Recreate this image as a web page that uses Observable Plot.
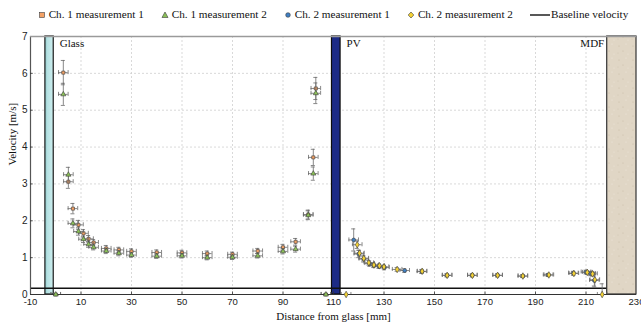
<!DOCTYPE html>
<html>
<head>
<meta charset="utf-8">
<script src="https://cdn.jsdelivr.net/npm/d3@7"></script>
<script src="https://cdn.jsdelivr.net/npm/@observablehq/plot@0.6"></script>
<style>
  html, body { margin: 0; padding: 0; background: white; }
  #wrap { width: 641px; height: 327px; position: relative; overflow: hidden; }
  #legend { position: relative; width: 641px; height: 28px; }
  #legendRow { position: absolute; left: 30px; width: 606px; top: 8px; display: flex; justify-content: center; gap: 17px;
               font-family: "Liberation Serif", serif; font-size: 11.2px; color: #111; line-height: 13px; white-space: nowrap; }
  .item { display: flex; align-items: center; }
  .item svg { display: block; margin-right: 3px; }
</style>
</head>
<body>
<div id="wrap">
  <div id="legend"><div id="legendRow"></div></div>
  <div id="chart"></div>
</div>
<script>
// ---------- data ----------
const ch1m1X = [0, 3, 5, 6.8, 9, 11, 13, 15, 20, 25, 30, 40, 50, 60, 70, 80, 90, 95, 100, 102, 103, 107];
const ch1m1Y = [0, 6.02, 3.06, 2.33, 1.89, 1.66, 1.51, 1.41, 1.25, 1.21, 1.17, 1.14, 1.13, 1.11, 1.09, 1.18, 1.28, 1.43, 2.17, 3.72, 5.59, 0];
const ch1m1E = [0.02, 0.33, 0.18, 0.14, 0.12, 0.10, 0.09, 0.08, 0.08, 0.07, 0.07, 0.07, 0.07, 0.07, 0.06, 0.07, 0.08, 0.09, 0.12, 0.22, 0.30, 0.02];

const ch1m2X = [0, 3, 5, 6.8, 9, 11, 13, 15, 20, 25, 30, 40, 50, 60, 70, 80, 90, 95, 100, 102, 103, 107];
const ch1m2Y = [0, 5.43, 3.25, 1.93, 1.71, 1.50, 1.36, 1.28, 1.18, 1.12, 1.07, 1.04, 1.05, 1.00, 1.01, 1.05, 1.17, 1.23, 2.15, 3.28, 5.46, 0];
const ch1m2E = [0.02, 0.30, 0.20, 0.12, 0.10, 0.09, 0.08, 0.07, 0.07, 0.07, 0.06, 0.06, 0.06, 0.06, 0.06, 0.06, 0.07, 0.08, 0.12, 0.18, 0.28, 0.02];

const ch2m1X = [118, 120, 122, 124.3, 126, 128, 130.2, 138.2, 145, 155, 165, 175, 185, 195, 205, 210, 211.8, 213.3];
const ch2m1Y = [1.48, 1.10, 0.96, 0.84, 0.79, 0.76, 0.73, 0.65, 0.62, 0.52, 0.52, 0.52, 0.50, 0.53, 0.58, 0.61, 0.57, 0.38];
const ch2m1E = [0.30, 0.10, 0.08, 0.07, 0.06, 0.05, 0.06, 0.05, 0.05, 0.04, 0.04, 0.04, 0.04, 0.04, 0.05, 0.05, 0.06, 0.15];

const ch2m2X = [115, 119.4, 120.3, 122, 124, 126, 128.2, 130, 135.2, 145.1, 155, 165, 175, 185, 195.3, 205.2, 210.5, 212.6, 213.5, 216.4];
const ch2m2Y = [0, 1.35, 1.12, 0.98, 0.86, 0.80, 0.78, 0.75, 0.68, 0.63, 0.52, 0.52, 0.52, 0.50, 0.53, 0.57, 0.60, 0.56, 0.40, 0];
const ch2m2E = [0.01, 0.10, 0.08, 0.07, 0.06, 0.05, 0.05, 0.05, 0.05, 0.05, 0.04, 0.04, 0.04, 0.04, 0.04, 0.05, 0.05, 0.06, 0.20, 0.29];

const xErr = 1.9;                 // mm, horizontal error
const baselineVelocity = 0.17;    // m/s

const glass = {x1: -4.1, x2: -0.8, label: "Glass"};
const pv = {x1: 109.4, x2: 112.8, label: "PV"};
const mdf = {x1: 218.4, x2: 230, label: "MDF"};

const xTicks = [-10, 10, 30, 50, 70, 90, 110, 130, 150, 170, 190, 210, 230];
const yTicks = [0, 1, 2, 3, 4, 5, 6, 7];
const xGrid = [10, 30, 50, 70, 90, 110, 130, 150, 170, 190, 210];
const yGrid = [1, 2, 3, 4, 5, 6];

const seriesNames = ["Ch. 1 measurement 1", "Ch. 1 measurement 2", "Ch. 2 measurement 1", "Ch. 2 measurement 2"];
const baselineName = "Baseline velocity";
const seriesSymbols = ["square", "triangle", "circle", "diamond"];
const seriesColors = ["#f4a266", "#8cc258", "#3f80c4", "#f5d335"];
const seriesR = [1.75, 1.9, 1.9, 2.0];

// ---------- build ----------
function rows(xs, ys, es) { return xs.map((x, i) => ({x, y: ys[i], e: es[i]})); }
const series = [
  rows(ch1m1X, ch1m1Y, ch1m1E),
  rows(ch1m2X, ch1m2Y, ch1m2E),
  rows(ch2m1X, ch2m1Y, ch2m1E),
  rows(ch2m2X, ch2m2Y, ch2m2E)
];

const capX = 0.8, capY = 0.055;
const errStroke = "#6a6a6a", errW = 0.8;

function errMarks(data) {
  return [
    Plot.ruleY(data, {y: "y", x1: d => d.x - xErr, x2: d => d.x + xErr, stroke: errStroke, strokeWidth: errW, clip: true}),
    Plot.ruleX(data, {x: d => d.x - xErr, y1: d => d.y - capY, y2: d => d.y + capY, stroke: errStroke, strokeWidth: errW, clip: true}),
    Plot.ruleX(data, {x: d => d.x + xErr, y1: d => d.y - capY, y2: d => d.y + capY, stroke: errStroke, strokeWidth: errW, clip: true}),
    Plot.ruleX(data, {x: "x", y1: d => d.y - d.e, y2: d => d.y + d.e, stroke: errStroke, strokeWidth: errW, clip: true}),
    Plot.ruleY(data, {y: d => d.y + d.e, x1: d => d.x - capX, x2: d => d.x + capX, stroke: errStroke, strokeWidth: errW, clip: true}),
    Plot.ruleY(data, {y: d => d.y - d.e, x1: d => d.x - capX, x2: d => d.x + capX, stroke: errStroke, strokeWidth: errW, clip: true})
  ];
}

const serif = "'Liberation Serif', serif";
const sans = "'Liberation Sans', 'DejaVu Sans', sans-serif";

const marks = [
  Plot.ruleX(xGrid, {stroke: "#cfcfcf", strokeWidth: 0.8, strokeDasharray: "2,2"}),
  Plot.ruleY(yGrid, {stroke: "#cfcfcf", strokeWidth: 0.8, strokeDasharray: "2,2"}),
  Plot.rect([glass], {x1: "x1", x2: "x2", y1: 0, y2: 7, fill: "url(#glassGrad)", stroke: "#1a1a1a", strokeWidth: 1.2}),
  Plot.rect([pv], {x1: "x1", x2: "x2", y1: 0, y2: 7, fill: "#1d2b86", stroke: "#0d0d0d", strokeWidth: 1.2}),
  Plot.ruleY([baselineVelocity], {stroke: "#111", strokeWidth: 1.4}),
  Plot.rect([mdf], {x1: "x1", x2: "x2", y1: 0, y2: 7, fill: "url(#mdfPat)", stroke: "#333", strokeWidth: 1.2}),
  Plot.ruleX([-10], {stroke: "#555", strokeWidth: 1.2}),
  Plot.ruleY([7], {stroke: "#9a9a9a", strokeWidth: 1.5}),
  Plot.ruleY([0], {stroke: "#333", strokeWidth: 1}),
  Plot.ruleX(xTicks.slice(1, -1), {y1: 0, y2: 0.07, stroke: "#333", strokeWidth: 0.8}),
  Plot.ruleY(yTicks.slice(1, -1), {x1: -10, x2: -8.9, stroke: "#333", strokeWidth: 0.8})
];
series.forEach((data, i) => {
  marks.push(...errMarks(data));
  marks.push(Plot.dot(data, {x: "x", y: "y", symbol: () => seriesSymbols[i], r: seriesR[i], fill: seriesColors[i], stroke: "#3a3a3a", strokeWidth: 0.6}));
});
marks.push(
  Plot.text([glass], {x: "x2", y: 7, text: "label", dx: 6, dy: 3, textAnchor: "start", lineAnchor: "top", fontFamily: serif, fontSize: 11, fill: "#111"}),
  Plot.text([pv], {x: "x2", y: 7, text: "label", dx: 6, dy: 3, textAnchor: "start", lineAnchor: "top", fontFamily: serif, fontSize: 11, fill: "#111"}),
  Plot.text([mdf], {x: "x1", y: 7, text: "label", dx: -3, dy: 3, textAnchor: "end", lineAnchor: "top", fontFamily: serif, fontSize: 11, fill: "#111"}),
  Plot.axisX({ticks: xTicks, tickFormat: d => String(d), tickSize: 0, tickPadding: 4, label: null, fontFamily: sans, fontSize: 9.5, fill: "#222"}),
  Plot.axisY({ticks: yTicks, tickFormat: d => String(d), tickSize: 0, tickPadding: 3, label: null, fontFamily: sans, fontSize: 10, fill: "#222"}),
  Plot.text(["Distance from glass [mm]"], {frameAnchor: "bottom", dy: 25, fontFamily: serif, fontSize: 11, fill: "#111"}),
  Plot.text(["Velocity [m/s]"], {frameAnchor: "left", dx: -18, rotate: -90, fontFamily: serif, fontSize: 11, fill: "#111"})
);

const chart = Plot.plot({
  width: 641, height: 299,
  marginLeft: 30, marginRight: 5, marginTop: 8, marginBottom: 33,
  x: {domain: [-10, 230]},
  y: {domain: [0, 7]},
  style: {background: "white", overflow: "visible"},
  marks
});

// gradient + texture definitions used by the bands
const ns = "http://www.w3.org/2000/svg";
const defs = document.createElementNS(ns, "defs");
defs.innerHTML = `
  <linearGradient id="glassGrad" x1="0" y1="0" x2="1" y2="0">
    <stop offset="0" stop-color="#8fcacb"/>
    <stop offset="0.3" stop-color="#b5e1e2"/>
    <stop offset="1" stop-color="#cdeeef"/>
  </linearGradient>
  <pattern id="mdfPat" width="14" height="14" patternUnits="userSpaceOnUse">
    <rect width="14" height="14" fill="#e0d6c5"/>
    <circle cx="3" cy="4" r="0.6" fill="#c9bca6"/>
    <circle cx="10" cy="2" r="0.5" fill="#f2ece2"/>
    <circle cx="7" cy="9" r="0.6" fill="#cabda8"/>
    <circle cx="12" cy="12" r="0.5" fill="#efe8dc"/>
    <circle cx="2" cy="11" r="0.5" fill="#d1c5b1"/>
  </pattern>`;
chart.insertBefore(defs, chart.firstChild);
document.getElementById("chart").appendChild(chart);

// ---------- legend ----------
const row = document.getElementById("legendRow");
const symPath = {
  square: '<rect x="1.6" y="1.6" width="4.8" height="4.8"/>',
  triangle: '<path d="M4,1 L7,6.5 L1,6.5 Z"/>',
  circle: '<circle cx="4" cy="4" r="2.3"/>',
  diamond: '<path d="M4,1 L6.8,4 L4,7 L1.2,4 Z"/>'
};
seriesNames.forEach((name, i) => {
  const it = document.createElement("div");
  it.className = "item";
  it.innerHTML = `<svg width="8" height="8"><g fill="${seriesColors[i]}" stroke="#3a3a3a" stroke-width="0.6">${symPath[seriesSymbols[i]]}</g></svg><span>${name}</span>`;
  row.appendChild(it);
});
const bl = document.createElement("div");
bl.className = "item";
bl.innerHTML = `<svg width="20" height="8" style="margin-right:1px"><line x1="0" y1="4" x2="20" y2="4" stroke="#111" stroke-width="1.4"/></svg><span>${baselineName}</span>`;
row.appendChild(bl);
</script>
</body>
</html>
